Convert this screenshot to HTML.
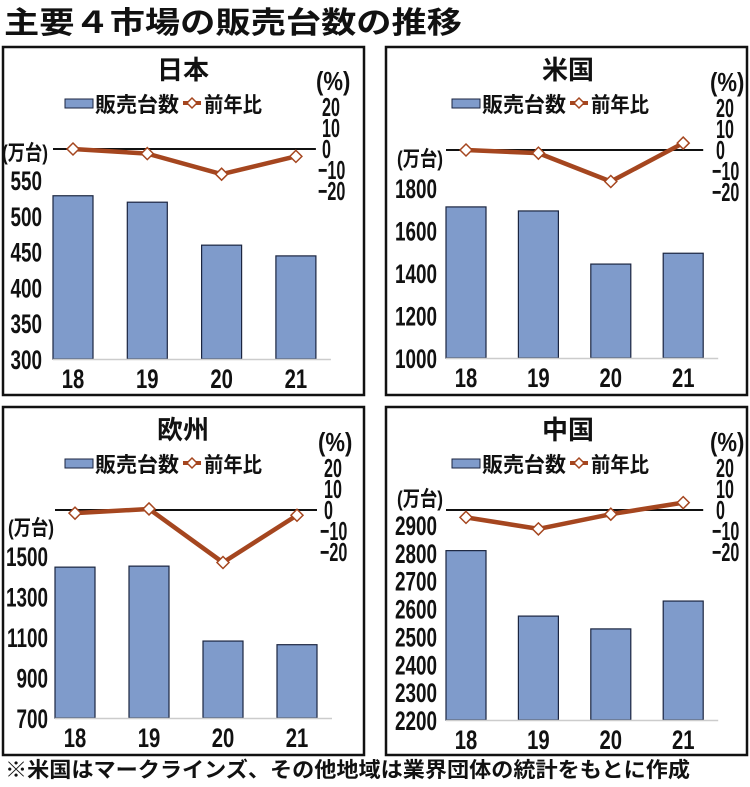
<!DOCTYPE html>
<html><head><meta charset="utf-8">
<style>
html,body{margin:0;padding:0;background:#fff;}
body{width:750px;height:782px;overflow:hidden;font-family:"Liberation Sans","Noto Sans CJK JP",sans-serif;}
svg text{font-family:"Liberation Sans","Noto Sans CJK JP",sans-serif;font-weight:bold;fill:#111;}
</style></head>
<body>
<svg id="chart" width="750" height="782" viewBox="0 0 750 782">
<text x="4" y="33" font-size="30" textLength="458" lengthAdjust="spacingAndGlyphs">主要４市場の販売台数の推移</text>
<text x="5" y="777" font-size="21" textLength="685" lengthAdjust="spacingAndGlyphs">※米国はマークラインズ、その他地域は業界団体の統計をもとに作成</text>
</svg>
<script>
const categories = ["18","19","20","21"];
const japanSales = [528, 519, 459, 444];
const japanYoy = [0, -2.2, -12, -3.5];
const japanTicks = [300, 350, 400, 450, 500, 550];
const usSales = [1711, 1692, 1442, 1493];
const usYoy = [0, -1.5, -15, 3.3];
const usTicks = [1000, 1200, 1400, 1600, 1800];
const europeSales = [1445, 1450, 1080, 1062];
const europeYoy = [-1.5, 0.5, -25, -2.5];
const europeTicks = [700, 900, 1100, 1300, 1500];
const chinaSales = [2808, 2573, 2527, 2627];
const chinaYoy = [-3.5, -9, -2, 3.5];
const chinaTicks = [2200, 2300, 2400, 2500, 2600, 2700, 2800, 2900];
const pctTicks = [20, 10, 0, -10, -20];

const NS = "http://www.w3.org/2000/svg";
const svg = document.getElementById("chart");
function mk(tag, attrs, parent) {
  const e = document.createElementNS(NS, tag);
  for (const k in attrs) e.setAttribute(k, attrs[k]);
  (parent || svg).appendChild(e);
  return e;
}

function panel(cfg, title, key, sales, yoy, ticks) {
  const g = mk("g", {});
  
  
  const bx = mk("rect", {x: cfg.bx, y: cfg.by, width: cfg.bw, height: cfg.bh, fill: "none", stroke: "#111", "stroke-width": 2.5}, g);
  
  
  const t = mk("text", {x: cfg.tx, y: cfg.by + 32, "font-size": 26, "text-anchor": "middle"}, g);
  t.textContent = title;
  
  
  const lx = cfg.lx, ly = cfg.by + 56;
  const lr = mk("rect", {x: lx, y: ly - 4, width: 28, height: 9, fill: "#7f9bcb", stroke: "#1b2540", "stroke-width": 1}, g);
  
  
  const lt = mk("text", {x: lx + 30, y: ly + 9, "font-size": 21, textLength: 84, lengthAdjust: "spacingAndGlyphs"}, g);
  lt.textContent = "販売台数";
  
  
  const ll = mk("line", {x1: lx + 118, y1: ly, x2: lx + 136, y2: ly, stroke: "#a5461f", "stroke-width": 4}, g);
  
  
  const ld = mk("path", {d: `M${lx+127},${ly-5}L${lx+132},${ly}L${lx+127},${ly+5}L${lx+122},${ly}Z`, fill: "#fff", stroke: "#a5461f", "stroke-width": 1.5}, g);
  
  
  const lt2 = mk("text", {x: lx + 139, y: ly + 9, "font-size": 21, textLength: 58, lengthAdjust: "spacingAndGlyphs"}, g);
  lt2.textContent = "前年比";
  
  

  const yS = v => cfg.base - (v - ticks[0]) * (cfg.base - cfg.topY) / (ticks[ticks.length - 1] - ticks[0]);
  const yP = v => cfg.zero - v * 2.1;
  const xC = i => cfg.x0 + i * cfg.step;

  const u = mk("text", {x: cfg.axR + 6, y: cfg.unitY, "font-size": 21, "text-anchor": "end", textLength: 46, lengthAdjust: "spacingAndGlyphs"}, g);
  u.textContent = "(万台)";
  
  
  ticks.forEach(v => {
    const tt = mk("text", {x: 0, y: 0, "font-size": 27, "text-anchor": "end", transform: `translate(${cfg.axR},${yS(v) + 10}) scale(0.7,1)`}, g);
    tt.textContent = v;
    
    
  });
  const pu = mk("text", {x: 0, y: 0, "font-size": 26, transform: `translate(${cfg.rx - 2},${cfg.zero - 59}) scale(0.85,1)`}, g);
  pu.textContent = "(%)";
  
  
  pctTicks.forEach(v => {
    const tt = mk("text", {x: 0, y: 0, "font-size": 26, transform: `translate(${cfg.rx + (v < 0 ? 0 : 4)},${yP(v) + 9}) scale(0.62,1)`}, g);
    tt.textContent = v < 0 ? "−" + (-v) : v;
    
    
  });
  sales.forEach((v, i) => {
    const r = mk("rect", {x: xC(i) - 20, y: yS(v), width: 40, height: cfg.base - yS(v), fill: "#7f9bcb", stroke: "#1b2540", "stroke-width": 1.2}, g);
    
    
    const c = mk("text", {x: 0, y: 0, "font-size": 27, "text-anchor": "middle", transform: `translate(${xC(i)},${cfg.base + 29}) scale(0.75,1)`}, g);
    c.textContent = categories[i];
    
    
  });
  const bl = mk("line", {x1: xC(0) - 20, y1: cfg.base + 0.5, x2: xC(3) + 35, y2: cfg.base + 0.5, stroke: "#ccc", "stroke-width": 1.5}, g);
  
  
  const zl = mk("line", {x1: xC(0) - 20, y1: cfg.zero, x2: xC(3) + 20, y2: cfg.zero, stroke: "#111", "stroke-width": 2}, g);
  
  
  const pts = yoy.map((v, i) => xC(i) + "," + yP(v)).join(" ");
  const pl = mk("polyline", {points: pts, fill: "none", stroke: "#a5461f", "stroke-width": 4.5, "stroke-linejoin": "round"}, g);
  
  
  yoy.forEach((v, i) => {
    const x = xC(i), y = yP(v);
    const m = mk("path", {d: `M${x},${y-6}L${x+6},${y}L${x},${y+6}L${x-6},${y}Z`, fill: "#fff", stroke: "#a5461f", "stroke-width": 1.5}, g);
    
    
  });
}

panel({bx:3,by:47,bw:361,bh:348,tx:183,lx:65,axR:42,unitY:160,base:359,topY:180,x0:73,step:74.3,zero:149,rx:318}, "日本", "japan", japanSales, japanYoy, japanTicks);
panel({bx:386,by:47,bw:361,bh:348,tx:568,lx:452,axR:437,unitY:166,base:358,topY:188,x0:466,step:72.4,zero:150,rx:712}, "米国", "us", usSales, usYoy, usTicks);
panel({bx:3,by:407,bw:361,bh:348,tx:183,lx:65,axR:48,unitY:535,base:718,topY:556,x0:75,step:74,zero:510,rx:320}, "欧州", "europe", europeSales, europeYoy, europeTicks);
panel({bx:386,by:407,bw:361,bh:348,tx:568,lx:452,axR:437,unitY:506,base:720,topY:525,x0:466,step:72.4,zero:510,rx:712}, "中国", "china", chinaSales, chinaYoy, chinaTicks);
</script>
</body></html>
